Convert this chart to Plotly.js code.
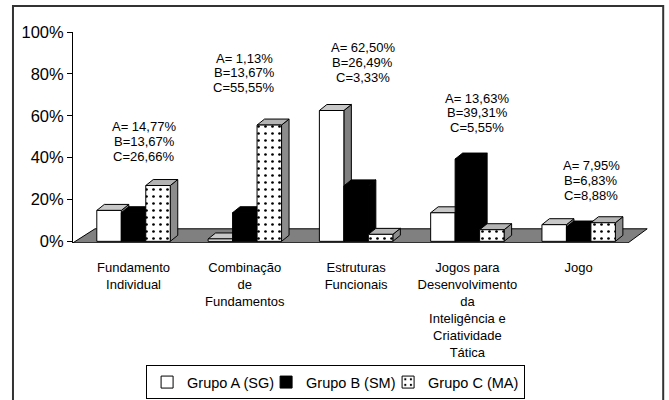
<!DOCTYPE html>
<html><head><meta charset="utf-8">
<script src="https://cdn.plot.ly/plotly-3.0.1.min.js"></script>
<style>html,body{margin:0;padding:0;background:#fff}#chart{width:669px;height:400px}</style>
</head><body><div id="chart"></div>
<script>
// ---- data ----
const categories = ['Fundamento Individual', 'Combinação de Fundamentos', 'Estruturas Funcionais',
  'Jogos para Desenvolvimento da Inteligência e Criatividade Tática', 'Jogo'];
const tickLabels = ['Fundamento<br>Individual', 'Combinação<br>de<br>Fundamentos', 'Estruturas<br>Funcionais',
  'Jogos para<br>Desenvolvimento<br>da<br>Inteligência e<br>Criatividade<br>Tática', 'Jogo'];
const seriesNames = ['Grupo A (SG)', 'Grupo B (SM)', 'Grupo C (MA)'];
const groupA = [14.77, 1.13, 62.50, 13.63, 7.95];
const groupB = [13.67, 13.67, 26.49, 39.31, 6.83];
const groupC = [26.66, 55.55, 3.33, 5.55, 8.88];
const yTickVals = [0, 20, 40, 60, 80, 100];
const labelPrefixes = ['A= ', 'B=', 'C='];

// ---- style / geometry ----
const W = 669, H = 400, M = {l: 73, r: 18.2, t: 32, b: 156.8, autoexpand: false};
const plotW = W - M.l - M.r, plotH = H - M.t - M.b;
const xRange = [-0.544, 4.65], yRange = [-0.8, 100];
const ux = (xRange[1] - xRange[0]) / plotW, uy = (yRange[1] - yRange[0]) / plotH;
const depthX = 7.5 * ux, depthY = 6 * uy;
const bargap = 0.34, barW = (1 - bargap) / 3;
const paperX = px => (px - M.l) / plotW;
const paperY = py => (H - M.b - py) / plotH;
const dataX = px => xRange[0] + (px - M.l) * ux;
const dataY = py => yRange[0] + (H - M.b - py) * uy;
const FONT = 'Liberation Sans, Arial, sans-serif';
const frontColors = ['#ffffff', '#000000', '#ffffff'];
const topColors = ['#c8c8c8', '#000000', '#b4b4b4'];
const sideColors = ['#808080', '#000000', '#8c8c8c'];
const legendWidths = [74, 77, null];
const labelDX = [10.5, -0.75, 6.5, 10, 12.5];
const labelDY = [58.6, 67, 62.6, 61, 57];
const lineStep = 14.7;
const floorPx = [[73, 243], [628, 243], [647, 229], [95, 229]];

const series = [groupA, groupB, groupC];
const xIdx = categories.map((_, i) => i);
const fmt = v => v.toFixed(2).replace('.', ',') + '%';

const traces = series.map((vals, k) => {
  const t = {
    type: 'bar', name: seriesNames[k], x: xIdx, y: vals, hoverinfo: 'skip',
    marker: Object.assign({color: frontColors[k], line: {color: '#000', width: 1}},
      k === 2 ? {pattern: {shape: '.', fgcolor: '#000', bgcolor: '#fff', size: 7, solidity: 0.12, fillmode: 'replace'}} : {})
  };
  if (legendWidths[k]) t.legendwidth = legendWidths[k];
  return t;
});

const shapes = [];
// floor
shapes.push({type: 'path', xref: 'x', yref: 'y', layer: 'below',
  path: 'M' + floorPx.map(p => dataX(p[0]) + ',' + dataY(p[1])).join('L') + 'Z',
  fillcolor: '#808080', line: {color: '#000', width: 1}});
// 3D faces of bars, computed from the data
xIdx.forEach(i => {
  series.forEach((vals, k) => {
    const v = vals[i];
    const x0 = i + (k - 1) * barW - barW / 2, x1 = x0 + barW;
    shapes.push({type: 'path', xref: 'x', yref: 'y', layer: 'below',
      path: `M${x1},0L${x1},${v}L${x1 + depthX},${v + depthY}L${x1 + depthX},${depthY}Z`,
      fillcolor: sideColors[k], line: {color: '#000', width: 1}});
    shapes.push({type: 'path', xref: 'x', yref: 'y', layer: 'below',
      path: `M${x0},${v}L${x1},${v}L${x1 + depthX},${v + depthY}L${x0 + depthX},${v + depthY}Z`,
      fillcolor: topColors[k], line: {color: '#000', width: 1}});
  });
});
// outer frame
shapes.push({type: 'rect', xref: 'paper', yref: 'paper', layer: 'above',
  x0: paperX(13), x1: paperX(663), y0: paperY(6), y1: paperY(412),
  line: {color: '#333', width: 2}, fillcolor: 'rgba(0,0,0,0)'});

const annotations = [];
xIdx.forEach(i => {
  const top = Math.max(groupA[i], groupB[i], groupC[i]);
  series.forEach((vals, k) => {
    annotations.push({x: i, y: top, xref: 'x', yref: 'y', showarrow: false,
      text: labelPrefixes[k] + fmt(vals[i]), xanchor: 'center', yanchor: 'middle',
      xshift: labelDX[i], yshift: labelDY[i] - k * lineStep,
      font: {family: FONT, size: 13, color: '#000'}});
  });
});

const layout = {
  width: W, height: H, margin: M, paper_bgcolor: '#fff', plot_bgcolor: 'rgba(0,0,0,0)',
  font: {family: FONT, color: '#000'},
  barmode: 'group', bargap: bargap, bargroupgap: 0,
  xaxis: {type: 'linear', range: xRange, tickvals: xIdx, ticktext: tickLabels, automargin: false,
    showgrid: false, zeroline: false, showline: false,
    ticks: 'outside', ticklen: 12.5, tickcolor: 'rgba(0,0,0,0)',
    tickfont: {family: FONT, size: 13, color: '#000'}, fixedrange: true},
  yaxis: {range: yRange, tickvals: yTickVals, ticktext: yTickVals.map(v => v + '%'), automargin: false,
    showgrid: false, zeroline: false, showline: true, linecolor: '#000', linewidth: 1,
    ticks: 'outside', ticklen: 5, tickcolor: '#000',
    tickfont: {family: FONT, size: 16.5, color: '#000'}, fixedrange: true},
  showlegend: true,
  legend: {orientation: 'h', x: paperX(335.5), xanchor: 'center', y: paperY(399.5), yanchor: 'bottom',
    bordercolor: '#000', borderwidth: 1, bgcolor: '#fff',
    font: {family: FONT, size: 14.5, color: '#000'}, traceorder: 'normal'},
  shapes: shapes, annotations: annotations
};

Plotly.newPlot('chart', traces, layout, {staticPlot: true, displayModeBar: false});
</script></body></html>
